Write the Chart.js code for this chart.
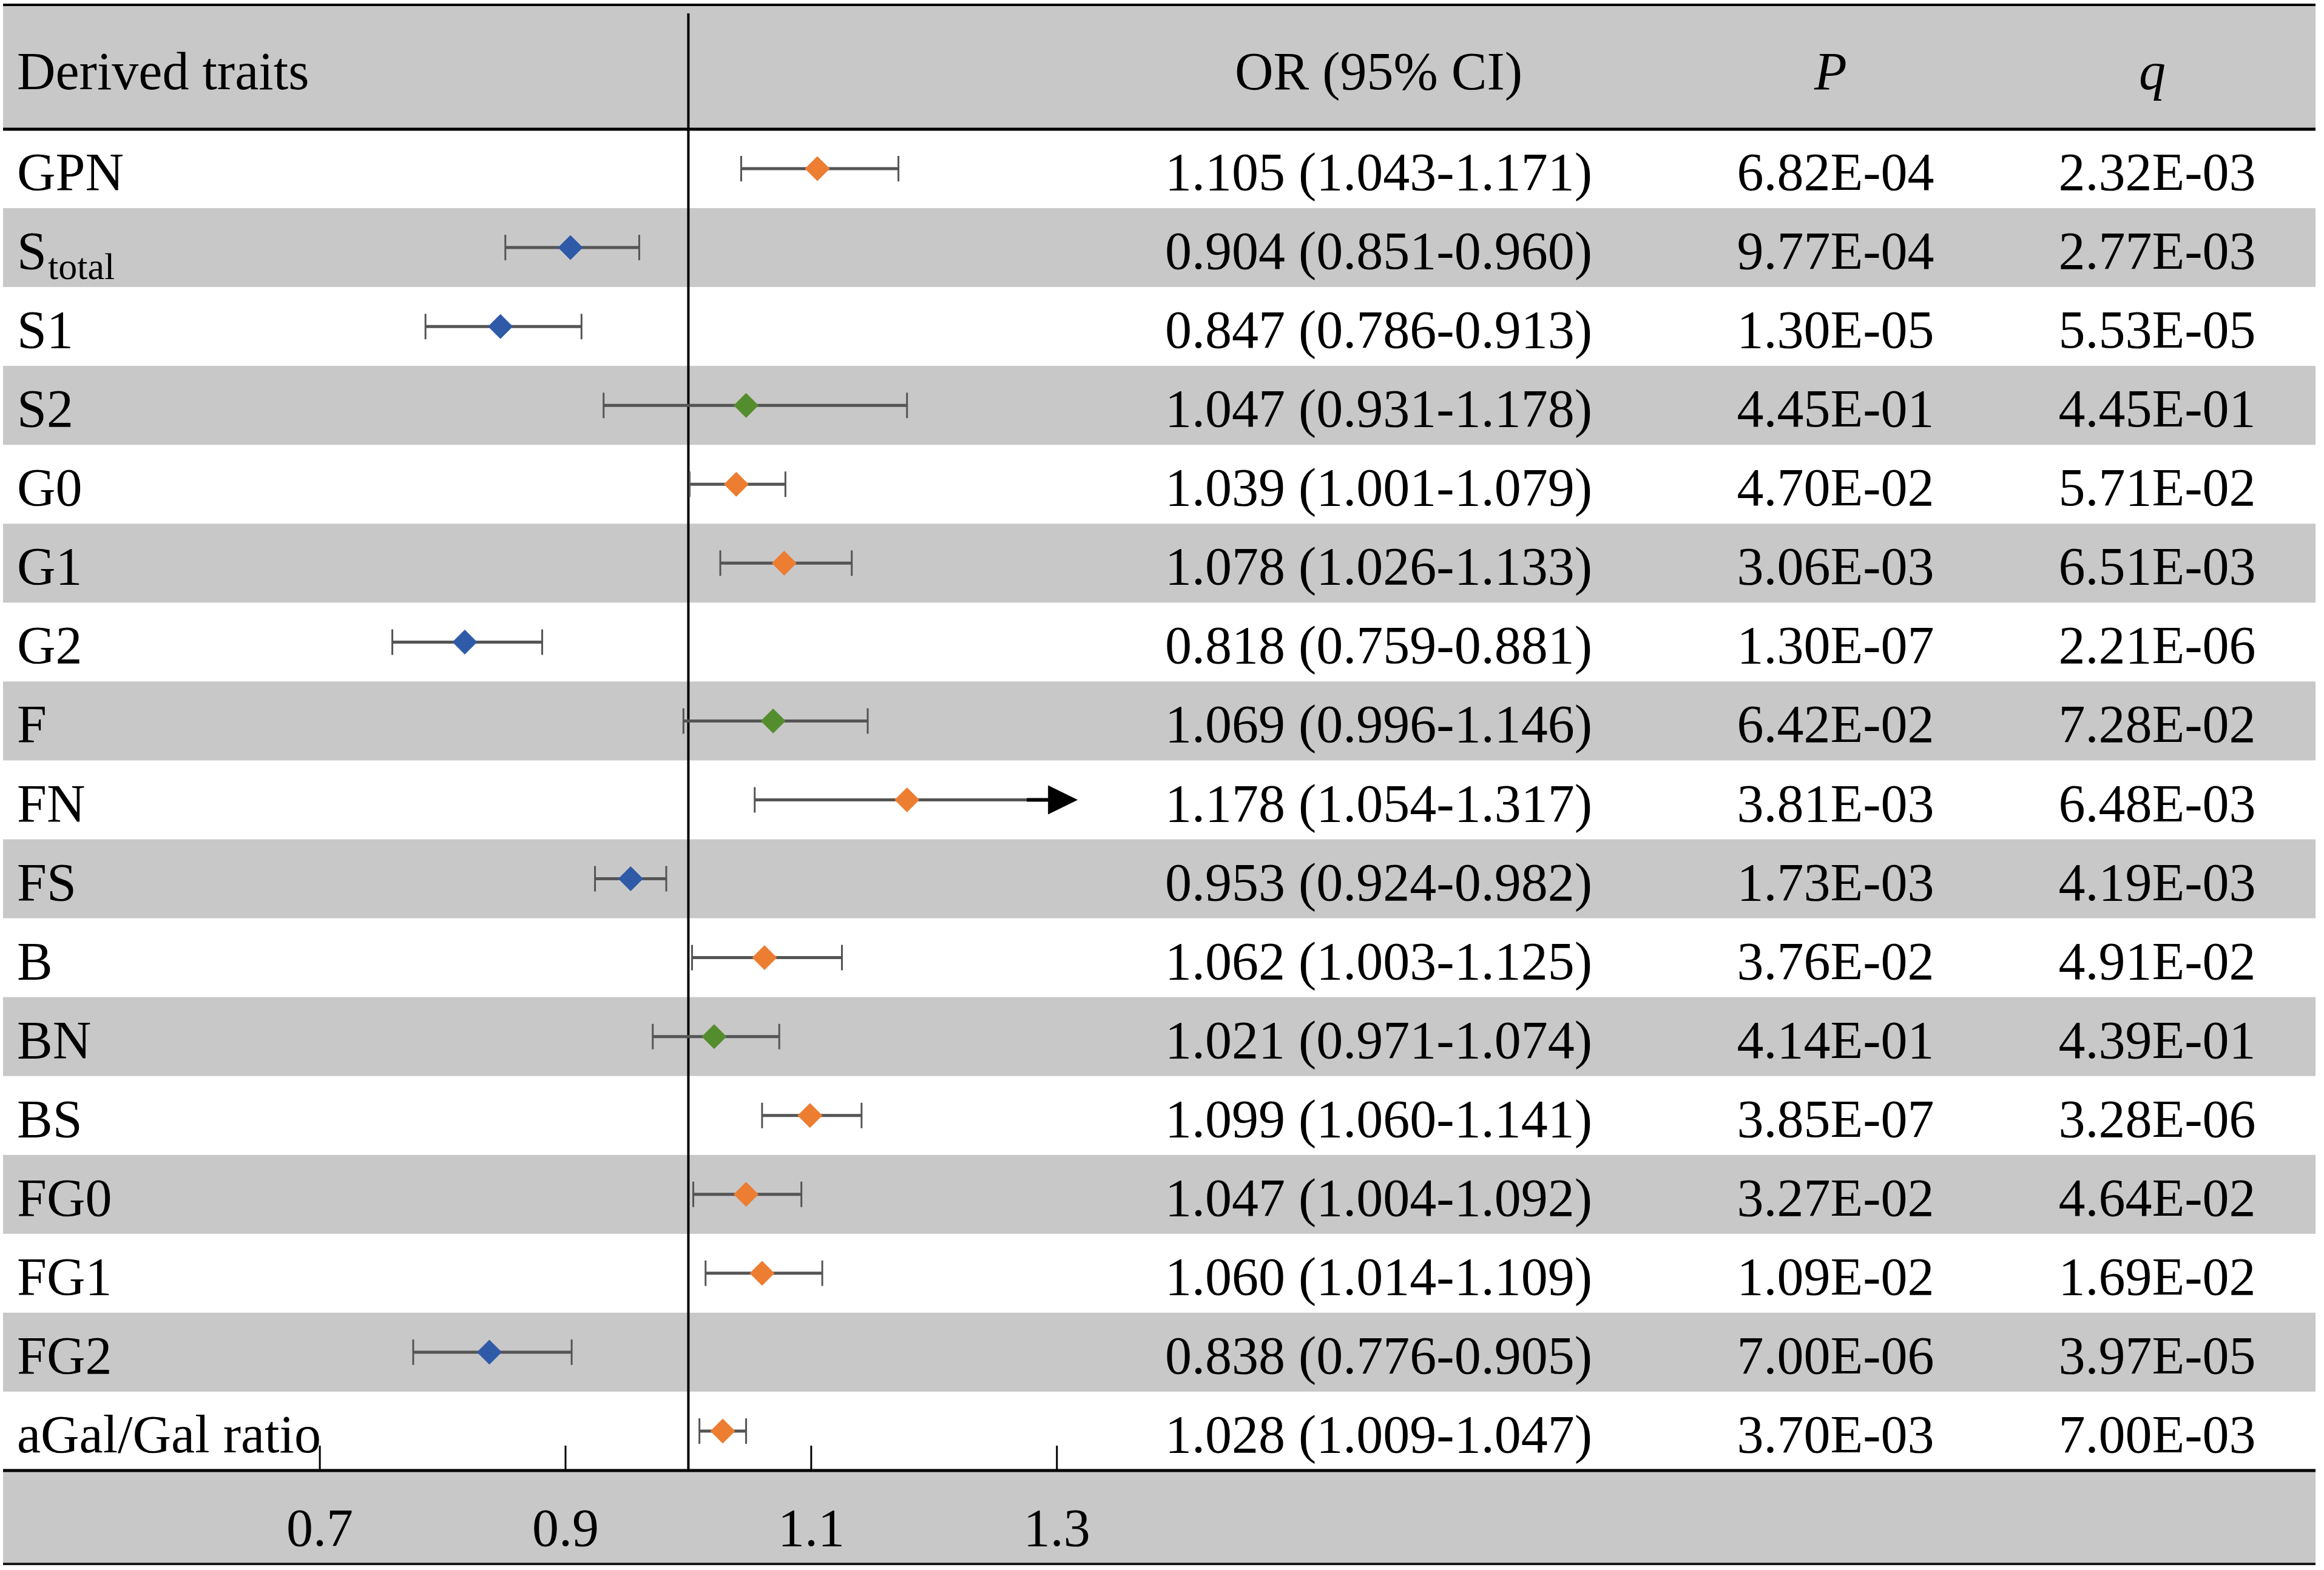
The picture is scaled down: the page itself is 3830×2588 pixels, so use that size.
<!DOCTYPE html>
<html>
<head>
<meta charset="utf-8">
<title>Derived traits - forest plot</title>
<script src="https://cdn.jsdelivr.net/npm/chart.js@4.4.1/dist/chart.umd.min.js"></script>
<style>
  html, body { margin: 0; padding: 0; background: #fff; }
  #wrap { width: 3830px; height: 2588px; position: relative; }
</style>
</head>
<body>
<div id="wrap"><canvas id="forest"></canvas></div>
<script>
// values
const traits = ["GPN", "S_total", "S1", "S2", "G0", "G1", "G2", "F", "FN", "FS",
  "B", "BN", "BS", "FG0", "FG1", "FG2", "aGal/Gal ratio"];
const oddsRatio = [1.105, 0.904, 0.847, 1.047, 1.039, 1.078, 0.818, 1.069, 1.178,
  0.953, 1.062, 1.021, 1.099, 1.047, 1.060, 0.838, 1.028];
const ciLow = [1.043, 0.851, 0.786, 0.931, 1.001, 1.026, 0.759, 0.996, 1.054,
  0.924, 1.003, 0.971, 1.060, 1.004, 1.014, 0.776, 1.009];
const ciHigh = [1.171, 0.960, 0.913, 1.178, 1.079, 1.133, 0.881, 1.146, 1.317,
  0.982, 1.125, 1.074, 1.141, 1.092, 1.109, 0.905, 1.047];
const pValues = ["6.82E-04", "9.77E-04", "1.30E-05", "4.45E-01", "4.70E-02", "3.06E-03",
  "1.30E-07", "6.42E-02", "3.81E-03", "1.73E-03", "3.76E-02", "4.14E-01", "3.85E-07",
  "3.27E-02", "1.09E-02", "7.00E-06", "3.70E-03"];
const qValues = ["2.32E-03", "2.77E-03", "5.53E-05", "4.45E-01", "5.71E-02", "6.51E-03",
  "2.21E-06", "7.28E-02", "6.48E-03", "4.19E-03", "4.91E-02", "4.39E-01", "3.28E-06",
  "4.64E-02", "1.69E-02", "3.97E-05", "7.00E-03"];
const tickValues = [0.7, 0.9, 1.1, 1.3];
const headers = ["Derived traits", "OR (95% CI)", "P", "q"];

// styling / layout
const FONT = '"Liberation Serif", "Times New Roman", serif';
const GRAY = "#c8c8c8";
const ORANGE = "#ed7d31", BLUE = "#2e5aa8", GREEN = "#548d2e";
const WHISKER = "#555555";
const TABLE_LEFT = 5, TABLE_RIGHT = 3816;
const TOP_LINE = 8, HEAD_LINE = 213, FOOT_LINE = 2578;
const ARROW_LIMIT = 1.3;
const COL_LABEL = 28, COL_OR = 2272, COL_P = 3025, COL_Q = 3555;

const pointColors = oddsRatio.map((v, i) =>
  parseFloat(pValues[i]) >= 0.05 ? GREEN : (v > 1 ? ORANGE : BLUE));

const tablePlugin = {
  id: "forestTable",
  beforeDraw(chart) {
    const { ctx, chartArea, scales: { y } } = chart;
    const w = TABLE_RIGHT - TABLE_LEFT;
    ctx.save();
    ctx.fillStyle = GRAY;
    ctx.fillRect(TABLE_LEFT, TOP_LINE, w, HEAD_LINE - TOP_LINE);
    traits.forEach((t, i) => {
      if (i % 2 === 1) {
        const top = y.getPixelForValue(i - 0.5);
        const bot = y.getPixelForValue(i + 0.5);
        ctx.fillRect(TABLE_LEFT, top, w, bot - top);
      }
    });
    ctx.fillRect(TABLE_LEFT, chartArea.bottom, w, FOOT_LINE - chartArea.bottom);
    ctx.restore();
  },
  beforeDatasetsDraw(chart) {
    const { ctx, chartArea, scales: { x, y } } = chart;
    ctx.save();
    // horizontal rules
    const rule = (yy, lw, color) => {
      ctx.beginPath();
      ctx.lineWidth = lw;
      ctx.strokeStyle = color || "#000";
      ctx.moveTo(TABLE_LEFT, yy);
      ctx.lineTo(TABLE_RIGHT, yy);
      ctx.stroke();
    };
    rule(TOP_LINE, 4);
    rule(HEAD_LINE, 5);
    rule(chartArea.bottom, 5);
    rule(FOOT_LINE, 4, "#1a1a1a");

    // reference line at OR = 1
    const x1 = x.getPixelForValue(1);
    ctx.beginPath();
    ctx.lineWidth = 4;
    ctx.strokeStyle = "#000";
    ctx.moveTo(x1, TOP_LINE + 14);
    ctx.lineTo(x1, chartArea.bottom);
    ctx.stroke();

    // confidence intervals
    oddsRatio.forEach((v, i) => {
      const py = y.getPixelForValue(i);
      const lo = x.getPixelForValue(ciLow[i]);
      const hi = x.getPixelForValue(ciHigh[i]);
      const arrow = ciHigh[i] > ARROW_LIMIT;
      ctx.strokeStyle = WHISKER;
      ctx.lineWidth = 5;
      ctx.beginPath();
      ctx.moveTo(lo, py);
      ctx.lineTo(arrow ? hi - 82 : hi, py);
      ctx.stroke();
      ctx.lineWidth = 3;
      ctx.beginPath();
      ctx.moveTo(lo, py - 21);
      ctx.lineTo(lo, py + 21);
      if (!arrow) {
        ctx.moveTo(hi, py - 21);
        ctx.lineTo(hi, py + 21);
      }
      ctx.stroke();
      if (arrow) {
        ctx.strokeStyle = "#000";
        ctx.lineWidth = 6;
        ctx.beginPath();
        ctx.moveTo(hi - 84, py);
        ctx.lineTo(hi - 46, py);
        ctx.stroke();
        ctx.fillStyle = "#000";
        ctx.beginPath();
        ctx.moveTo(hi - 49, py - 24);
        ctx.lineTo(hi, py);
        ctx.lineTo(hi - 49, py + 24);
        ctx.closePath();
        ctx.fill();
      }
    });
    ctx.restore();
  },
  afterDraw(chart) {
    const { ctx, chartArea, scales: { x, y } } = chart;
    ctx.save();
    // inward tick marks
    ctx.strokeStyle = "#000";
    ctx.lineWidth = 3;
    x.ticks.forEach(t => {
      const px = x.getPixelForValue(t.value);
      ctx.beginPath();
      ctx.moveTo(px, chartArea.bottom - 41);
      ctx.lineTo(px, chartArea.bottom);
      ctx.stroke();
    });

    ctx.fillStyle = "#000";
    ctx.textBaseline = "alphabetic";
    const headBase = 147;
    ctx.font = "88px " + FONT;
    ctx.textAlign = "left";
    ctx.fillText(headers[0], COL_LABEL, headBase);
    ctx.textAlign = "center";
    ctx.fillText(headers[1], COL_OR, headBase);
    ctx.font = "italic 88px " + FONT;
    ctx.fillText(headers[2], COL_P - 8, headBase);
    ctx.fillText(headers[3], COL_Q - 8, headBase);

    traits.forEach((t, i) => {
      const base = y.getPixelForValue(i) + 35;
      const parts = t.split("_");
      ctx.font = "88px " + FONT;
      ctx.textAlign = "left";
      ctx.fillText(parts[0], COL_LABEL, base);
      if (parts[1]) {
        const wMain = ctx.measureText(parts[0]).width;
        ctx.font = "62px " + FONT;
        ctx.fillText(parts[1], COL_LABEL + wMain + 2, base + 17);
        ctx.font = "88px " + FONT;
      }
      ctx.textAlign = "center";
      const orText = oddsRatio[i].toFixed(3) + " (" + ciLow[i].toFixed(3) + "-" + ciHigh[i].toFixed(3) + ")";
      ctx.fillText(orText, COL_OR, base);
      ctx.fillText(pValues[i], COL_P, base);
      ctx.fillText(qValues[i], COL_Q, base);
    });
    ctx.restore();
  }
};

new Chart(document.getElementById("forest").getContext("2d"), {
  type: "scatter",
  data: {
    datasets: [
      {
        label: "OR",
        data: oddsRatio.map((v, i) => ({ x: v, y: i })),
        pointStyle: "rectRot",
        pointRadius: 20,
        pointHoverRadius: 20,
        pointBackgroundColor: pointColors,
        pointBorderColor: pointColors,
        pointBorderWidth: 1,
      },
    ],
  },
  options: {
    responsive: true,
    maintainAspectRatio: false,
    devicePixelRatio: 1,
    animation: false,
    layout: {
      padding: { left: 13, right: 1987, top: 213, bottom: 0 },
    },
    scales: {
      x: {
        type: "linear",
        min: 0.45,
        max: 1.35,
        afterBuildTicks: (axis) => {
          axis.ticks = tickValues.map(v => ({ value: v }));
        },
        afterFit: (axis) => {
          axis.height = 164;
        },
        grid: { display: false },
        border: { display: false },
        ticks: {
          padding: 40,
          color: "#000",
          maxRotation: 0,
          font: { family: FONT, size: 88 },
          callback: (v) => v.toFixed(1),
        },
      },
      y: {
        type: "linear",
        min: -0.5,
        max: traits.length - 0.5,
        reverse: true,
        display: false,
      },
    },
    plugins: {
      legend: { display: false },
      tooltip: { enabled: false },
    },
  },
  plugins: [tablePlugin],
});
</script>
</body>
</html>
